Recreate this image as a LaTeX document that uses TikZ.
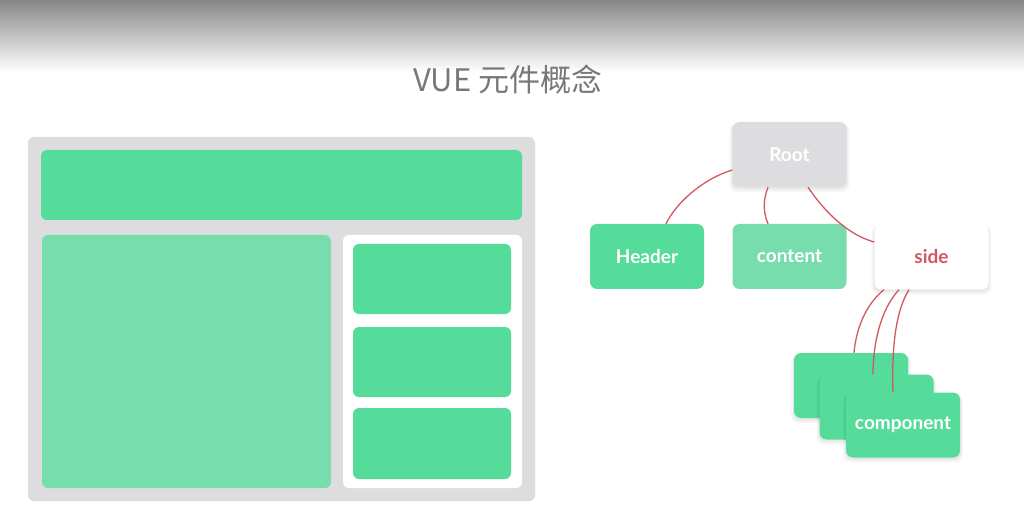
\documentclass[tikz,border=0pt]{standalone}
\usepackage{fontspec}
\newfontfamily\cjk{Noto Sans CJK TC}
\newfontfamily\lbl{Lato}
\usetikzlibrary{calc,shadows}
\definecolor{vgreen}{RGB}{85,219,154}
\definecolor{vlight}{RGB}{120,221,173}
\definecolor{vgray}{RGB}{221,221,224}
\definecolor{vred}{RGB}{210,88,96}
\definecolor{vtitle}{RGB}{120,120,122}
\definecolor{topgray}{RGB}{135,135,137}
\tikzset{
  box/.style={rounded corners=7pt, minimum width=114pt, minimum height=65pt, inner sep=0pt,
    font=\lbl\bfseries\fontsize{19}{22}\selectfont, text=white},
  softshadow/.style={
    general shadow={fill=black, opacity=0.04, shadow xshift=0pt, shadow yshift=-3pt, shadow scale=1.05},
    general shadow={fill=black, opacity=0.05, shadow xshift=0pt, shadow yshift=-2pt, shadow scale=1.02}},
  greenbox/.style={box, fill=vgreen},
  lightbox/.style={box, fill=vlight},
  graybox/.style={box, fill=vgray, softshadow},
  sidebox/.style={box, fill=white, text=vred, softshadow},
  compbox/.style={box, fill=vgreen, softshadow},
  link/.style={draw=vred, line width=1.3pt},
  panel/.style={rounded corners=6pt}
}
\begin{document}
\begin{tikzpicture}[x=1pt,y=-1pt]
\useasboundingbox (0,0) rectangle (1024,510);
\fill[white] (0,0) rectangle (1024,510);
\shade[top color=topgray, bottom color=white] (0,0) rectangle (1024,72);
\node[font=\cjk\fontsize{31}{34}\selectfont, text=vtitle] (title) at (508,80) {VUE 元件概念};

% layout mock-up
\fill[vgray, panel] (28,137) rectangle (535,501);
\fill[vgreen, panel] (41,150) rectangle (522,220);
\fill[vlight, panel] (42,235) rectangle (331,488);
\fill[white, panel] (343,235) rectangle (522,488);
\fill[vgreen, panel] (353,244) rectangle (511,314);
\fill[vgreen, panel] (353,327) rectangle (511,397);
\fill[vgreen, panel] (353,408) rectangle (511,479);

% tree
\node[graybox] (root) at (789.5,154.5) {Root};
\node[greenbox] (header) at (647,256.5) {Header};
\node[lightbox] (content) at (789.5,256.5) {content};
\node[sidebox] (side) at (931.5,257) {side};
\node[compbox] (c1) at (851,385.5) {};
\node[compbox] (c2) at (876.5,407) {};
\node[compbox] (c3) at (903,425) {component};

\draw[link] ($(root.west)+(0,15.5)$) .. controls (700,180) and (675,205) .. ($(header.north)+(19,0)$);
\draw[link] ($(root.south)+(-21.5,0)$) .. controls (763,200) and (763,212) .. ($(content.north)+(-21.5,0)$);
\draw[link] ($(root.south)+(18.5,0)$) .. controls (830,220) and (855,237) .. ($(side.west)+(0,-15)$);
\draw[link] ($(side.south)+(-47.5,0)$) .. controls (865,305) and (856,330) .. ($(c1.north)+(3,0)$);
\draw[link] ($(side.south)+(-32.5,0)$) .. controls (880,310) and (873,345) .. ($(c2.north)+(-3.5,0)$);
\draw[link] ($(side.south)+(-22.5,0)$) .. controls (893,315) and (892,360) .. ($(c3.north)+(-10,0)$);
\end{tikzpicture}
\end{document}
